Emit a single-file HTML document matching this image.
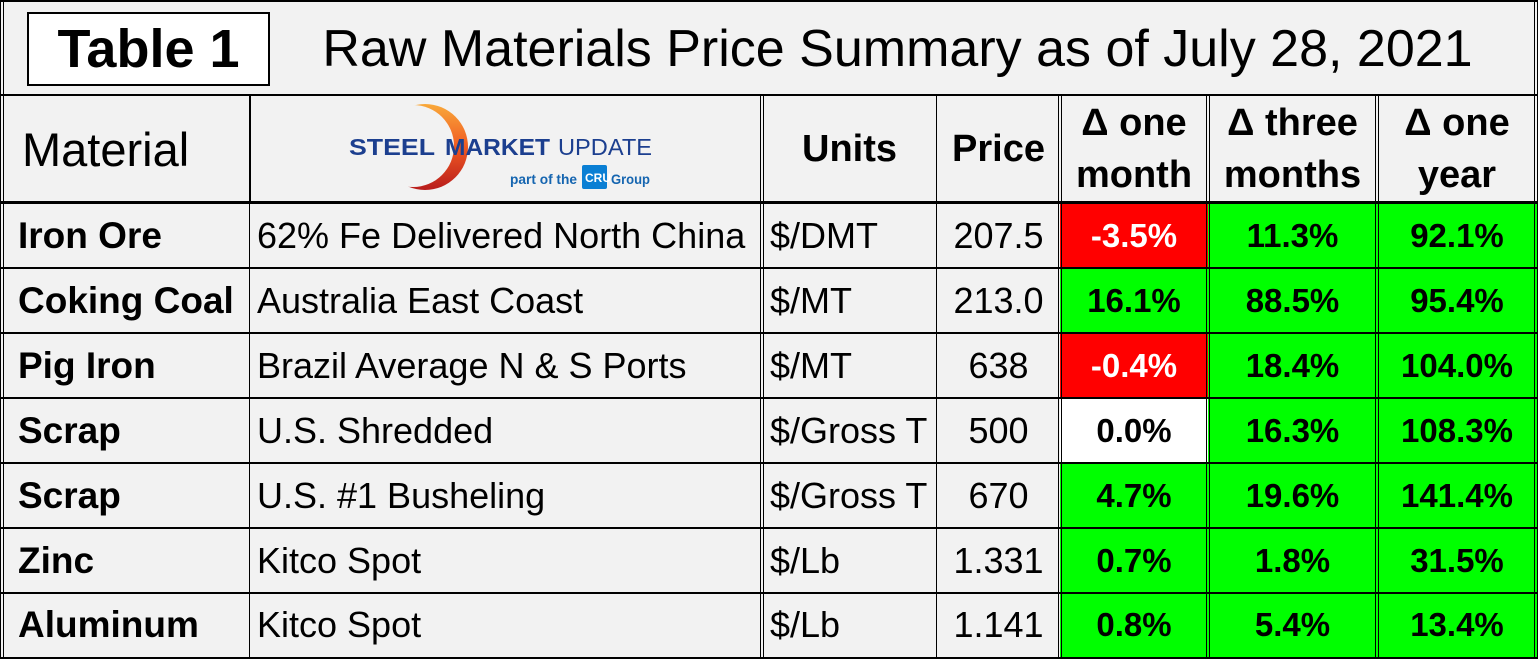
<!DOCTYPE html>
<html><head><meta charset="utf-8"><style>
body{margin:0;width:1538px;height:659px;overflow:hidden;background:#fff;font-family:"Liberation Sans",Arial,sans-serif;}
#t{position:absolute;left:0;top:0;width:1538px;height:659px;background:#f2f2f2;}
.a{position:absolute;box-sizing:border-box;}
.h{position:absolute;background:#000;}
.c{position:absolute;display:flex;align-items:center;box-sizing:border-box;font-size:36px;color:#000;white-space:nowrap;}
.b{font-weight:bold;font-size:37px;}
.p{justify-content:center;font-weight:bold;font-size:33px;font-family:"Liberation Sans",sans-serif;}
</style></head><body>
<div id="t">
<div class="a" style="left:27px;top:12px;width:243px;height:74px;border:2px solid #000;background:#fff;display:flex;align-items:center;justify-content:center;font-weight:bold;font-size:54px;">Table 1</div>
<div class="a" style="left:280px;top:14px;width:1235px;height:70px;display:flex;align-items:center;justify-content:center;font-size:52px;">Raw Materials Price Summary as of July 28, 2021</div>
</div>
<script>
const cols=[0,250,762,937,1060,1208,1377,1537];
const rowsY=[95,203,268,333,398,463,528,593,657];
const materials=["Iron Ore","Coking Coal","Pig Iron","Scrap","Scrap","Zinc","Aluminum"];
const descs=["62% Fe Delivered North China","Australia East Coast","Brazil Average N & S Ports","U.S. Shredded","U.S. #1 Busheling","Kitco Spot","Kitco Spot"];
const units=["$/DMT","$/MT","$/MT","$/Gross T","$/Gross T","$/Lb","$/Lb"];
const prices=["207.5","213.0","638","500","670","1.331","1.141"];
const oneMonth=[-3.5,16.1,-0.4,0.0,4.7,0.7,0.8];
const threeMonths=[11.3,88.5,18.4,16.3,19.6,1.8,5.4];
const oneYear=[92.1,95.4,104.0,108.3,141.4,31.5,13.4];
const g=document.getElementById('t');
function cell(x1,x2,y1,y2,txt,cls,name){const d=document.createElement('div');d.className='c '+cls;
d.style.left=x1+'px';d.style.top=y1+'px';d.style.width=(x2-x1)+'px';d.style.height=(y2-y1)+'px';d.innerHTML=txt;


g.appendChild(d);return d;}
function bg(v){return v>0?'#00ff00':(v<0?'#ff0000':'#ffffff');}
cell(0,250,95,203,'Material','','header-material').style.cssText+='font-size:47px;padding-left:22px;';
cell(250,762,95,203,'<svg width="512" height="108"><defs><linearGradient id="lg" x1="0" y1="0" x2="0" y2="1"><stop offset="0" stop-color="#f9a93a"/><stop offset="0.5" stop-color="#f05a22"/><stop offset="1" stop-color="#b81c1c"/></linearGradient></defs><circle cx="175" cy="52" r="43" fill="url(#lg)"/><circle cx="163" cy="51" r="41" fill="#f2f2f2"/><text x="99" y="60" textLength="86" lengthAdjust="spacingAndGlyphs" font-family="Liberation Sans" font-weight="bold" font-size="23" fill="#1c3f8f">STEEL</text><text x="195" y="60" textLength="105" lengthAdjust="spacingAndGlyphs" font-family="Liberation Sans" font-weight="bold" font-size="23" fill="#1c3f8f">MARKET</text><text x="308" y="60" textLength="94" lengthAdjust="spacingAndGlyphs" font-family="Liberation Sans" font-size="23" fill="#1c3f8f">UPDATE</text><text x="260" y="89" textLength="67" lengthAdjust="spacingAndGlyphs" font-family="Liberation Sans" font-weight="bold" font-size="14" fill="#1565b0">part of the</text><rect x="332" y="70" width="25" height="24" rx="2" fill="#0a7fd4"/><text x="335" y="87" font-family="Liberation Sans" font-weight="bold" font-size="12" fill="#fff">CRU</text><text x="361" y="89" textLength="39" lengthAdjust="spacingAndGlyphs" font-family="Liberation Sans" font-weight="bold" font-size="14" fill="#1565b0">Group</text></svg>','','steel-market-update-logo');
cell(762,937,95,203,'Units','b','header-units').style.cssText+='justify-content:center;font-size:38px;';
cell(937,1060,95,203,'Price','b','header-price').style.cssText+='justify-content:center;font-size:38px;';
const hd=[['Δ one','month'],['Δ three','months'],['Δ one','year']];
hd.forEach((h,i)=>{const d=cell(cols[4+i],cols[5+i],95,203,h[0]+'<br>'+h[1],'b','header-change-'+i);d.style.cssText+='justify-content:center;text-align:center;font-size:38px;line-height:52px;';});
for(let r=0;r<7;r++){const y1=rowsY[r+1],y2=rowsY[r+2];
cell(0,250,y1,y2,materials[r],'b','material-'+r).style.paddingLeft='18px';
cell(250,762,y1,y2,descs[r],'','description-'+r).style.paddingLeft='7px';
cell(762,937,y1,y2,units[r],'','units-'+r).style.paddingLeft='8px';
cell(937,1060,y1,y2,prices[r],'','price-'+r).style.cssText+='justify-content:center;';
[oneMonth,threeMonths,oneYear].forEach((arr,k)=>{const v=arr[r];const d=cell(cols[4+k],cols[5+k],y1,y2,v.toFixed(1)+'%','p','change-'+k+'-row-'+r);
d.style.background=bg(v);if(v<0)d.style.color='#fff';});
}
function line(x,y,w,h,name){const d=document.createElement('div');d.className='h';d.style.left=x+'px';d.style.top=y+'px';d.style.width=w+'px';d.style.height=h+'px';


g.appendChild(d);}
line(0,0,1538,2,'border');line(0,657,1538,2,'border');line(0,0,1,659,'border');line(3,0,1,659,'border');line(1534,0,1,659,'border');line(1537,0,1,659,'border');
line(0,94,1538,2,'border');line(0,201,1538,3,'border');
for(let r=2;r<8;r++)line(0,rowsY[r]-1,1538,2,'row-line');
line(249,95,2,108,'col-line');line(249,203,1,455,'col-line');
[762,1060,1208,1377].forEach(x=>{line(x-2,95,1,563,'col-line');line(x+1,95,1,563,'col-line');});
line(936,95,1,563,'col-line');
</script>
</body></html>
